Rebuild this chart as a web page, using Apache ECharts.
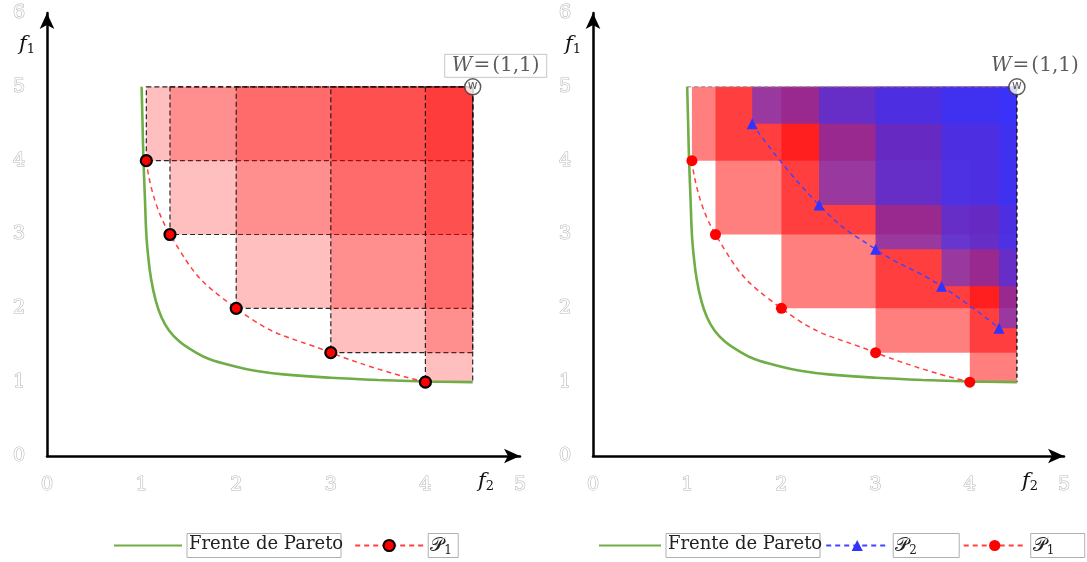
<!DOCTYPE html>
<html>
<head>
<meta charset="utf-8">
<script src="https://cdn.jsdelivr.net/npm/echarts@6/dist/echarts.min.js"></script>
<style>
  html, body { margin: 0; padding: 0; background: #fff; }
  #chart { width: 1087px; height: 562px; }
</style>
</head>
<body>
<div id="chart"></div>
<script>
// Tick values for both panels
const xTicks = [0, 1, 2, 3, 4, 5];
const yTicks = [0, 1, 2, 3, 4, 5, 6];

// Pareto front (f2, f1)
const front = [
  [1.0, 5.0], [1.01, 4.5], [1.02, 4.0], [1.035, 3.5], [1.05, 3.0], [1.07, 2.7],
  [1.10, 2.4], [1.15, 2.1], [1.21, 1.88], [1.29, 1.70], [1.40, 1.55],
  [1.55, 1.42], [1.72, 1.31], [2.0, 1.21], [2.2, 1.155], [2.5, 1.105],
  [3.0, 1.06], [3.5, 1.03], [4.0, 1.01], [4.5, 1.0]
];

// Approximation sets
const p1 = [[1.05, 4.0], [1.3, 3.0], [2.0, 2.0], [3.0, 1.4], [4.0, 1.0]];
const p2 = [[1.69, 4.5], [2.4, 3.4], [3.0, 2.8], [3.7, 2.3], [4.31, 1.73]];

// Reference point W
const ref = [4.5, 5.0];
const refName = 'W';
const refValue = '(1,1)';

const SERIF = "'DejaVu Serif', 'Liberation Serif', serif";

// Rectangles dominated by each point, up to the reference point
const boxes = pts => pts.map(p => [p[0], p[1], ref[0], ref[1]]);

function rectRenderer(fill, stroke) {
  return function (params, api) {
    const a = api.coord([api.value(0), api.value(1)]);
    const b = api.coord([api.value(2), api.value(3)]);
    const style = { fill: fill };
    if (stroke) {
      style.stroke = stroke;
      style.lineWidth = 1.2;
      style.lineDash = [5, 3];
    } else {
      style.stroke = null;
    }
    return {
      type: 'rect',
      shape: { x: a[0], y: b[1], width: b[0] - a[0], height: a[1] - b[1] },
      style: style
    };
  };
}

function axisPair(gridIndex) {
  const tickLabel = {
    color: '#ffffff',
    textBorderColor: '#b8b8b8',
    textBorderWidth: 1.2,
    fontFamily: SERIF,
    fontSize: 19
  };
  const line = {
    show: true,
    symbol: ['none', 'arrow'],
    symbolSize: [11, 16],
    lineStyle: { color: '#000', width: 2.5 }
  };
  const nameRich = {
    f: { fontFamily: SERIF, fontStyle: 'italic', fontSize: 21, color: '#111' },
    s: { fontFamily: SERIF, fontSize: 13, color: '#111', padding: [10, 0, 0, 0] }
  };
  return {
    x: {
      type: 'value', gridIndex, min: xTicks[0], max: xTicks[xTicks.length - 1], interval: 1,
      axisLine: line, axisTick: { show: false }, splitLine: { show: false },
      axisLabel: Object.assign({ margin: 20 }, tickLabel),
      name: '{f|f}{s|2}', nameLocation: 'end', nameGap: -42,
      nameTextStyle: { align: 'left', verticalAlign: 'top', padding: [14, 0, 0, 0], rich: nameRich }
    },
    y: {
      type: 'value', gridIndex, min: yTicks[0], max: yTicks[yTicks.length - 1], interval: 1,
      axisLine: line, axisTick: { show: false }, splitLine: { show: false },
      axisLabel: Object.assign({ margin: 22 }, tickLabel),
      name: '{f|f}{s|1}', nameLocation: 'end', nameGap: -32,
      nameTextStyle: { align: 'right', verticalAlign: 'middle', padding: [0, 12, 0, 0], rich: nameRich }
    }
  };
}

const ax0 = axisPair(0), ax1 = axisPair(1);

const frontStyle = { color: '#70ad47', width: 2.6 };
const richP = {
  p: { fontFamily: SERIF, fontSize: 19, color: '#222' },
  s: { fontFamily: SERIF, fontSize: 12, color: '#222', padding: [9, 0, 0, 0] }
};
const legendName = {
  'Frente de Pareto': 'Frente de Pareto',
  'P1-a': '{p|𝒫}{s|1}',
  'P1-b': '{p|𝒫}{s|1}',
  'P2': '{p|𝒫}{s|2}'
};
const boxText = (w) => ({
  width: w, height: 20, align: 'center',
  borderColor: '#b0b0b0', borderWidth: 1, padding: [2, 2],
  fontFamily: SERIF, fontSize: 18, color: '#222', rich: richP
});
const noMarker = { opacity: 0 };

function refSeries(x, y, withBox, offset) {
  return [
    {
      type: 'scatter', xAxisIndex: x, yAxisIndex: y, z: 6,
      data: [ref], symbol: 'circle', symbolSize: 16,
      itemStyle: { color: '#fff', borderColor: '#333', borderWidth: 1.5 },
      label: { show: true, position: 'inside', formatter: refName.toLowerCase(), fontSize: 12, color: '#333', fontFamily: "'DejaVu Sans', sans-serif", offset: [0, -1] },
      silent: true
    },
    {
      type: 'scatter', xAxisIndex: x, yAxisIndex: y, z: 6,
      data: [ref], symbolSize: 0,
      label: {
        show: true, position: 'inside', offset: offset,
        formatter: '{w|' + refName + '}{e|=}{t|' + refValue + '}',
        borderColor: withBox ? '#b8b8b8' : 'transparent', borderWidth: 1,
        width: 96, height: 21, padding: [1, 3], align: 'center',
        rich: {
          w: { fontFamily: SERIF, fontStyle: 'italic', fontSize: 20, color: '#333' },
          e: { fontFamily: SERIF, fontSize: 20, color: '#333', padding: [0, 2, 0, 1] },
          t: { fontFamily: SERIF, fontSize: 20, color: '#333' }
        }
      },
      silent: true
    }
  ];
}

const option = {
  animation: false,
  backgroundColor: '#fff',
  grid: [
    { left: 47, top: 13, width: 473, height: 443 },
    { left: 593, top: 13, width: 471, height: 443 }
  ],
  xAxis: [ax0.x, ax1.x],
  yAxis: [ax0.y, ax1.y],
  legend: [
    {
      left: 113, top: 533, width: 400, padding: 0, itemWidth: 68, itemHeight: 14, itemGap: 11,
      formatter: n => legendName[n],
      data: [
        { name: 'Frente de Pareto', textStyle: boxText(150), itemStyle: noMarker },
        { name: 'P1-a', textStyle: boxText(26) }
      ]
    },
    {
      left: 598, top: 533, width: 489, padding: 0, itemWidth: 62, itemHeight: 14, itemGap: 3,
      formatter: n => legendName[n],
      data: [
        { name: 'Frente de Pareto', textStyle: boxText(150), itemStyle: noMarker },
        { name: 'P2', textStyle: boxText(62) },
        { name: 'P1-b', textStyle: boxText(50) }
      ]
    }
  ],
  series: [
    // ---- left panel: hypervolume of P1 ----
    {
      type: 'custom', xAxisIndex: 0, yAxisIndex: 0, z: 1, silent: true,
      data: boxes(p1), encode: { x: [0, 2], y: [1, 3] },
      renderItem: rectRenderer('rgba(255,0,0,0.25)', 'rgba(20,20,20,0.9)')
    },
    {
      name: 'Frente de Pareto', type: 'line', xAxisIndex: 0, yAxisIndex: 0, z: 3,
      data: front, smooth: 0.4, showSymbol: false, symbol: 'none',
      lineStyle: frontStyle, itemStyle: { color: '#70ad47' }
    },
    {
      name: 'P1-a', type: 'line', xAxisIndex: 0, yAxisIndex: 0, z: 4,
      data: p1, smooth: true, symbol: 'circle', symbolSize: 11,
      lineStyle: { color: '#ff4040', width: 1.5, type: [5, 4] },
      itemStyle: { color: '#ff0000', borderColor: '#000', borderWidth: 2.2 }
    },
    ...refSeries(0, 0, true, [23, -21]),

    // ---- right panel: hypervolumes of P1 and P2 ----
    {
      type: 'custom', xAxisIndex: 1, yAxisIndex: 1, z: 1, silent: true,
      data: boxes(p1), encode: { x: [0, 2], y: [1, 3] },
      renderItem: rectRenderer('rgba(255,0,0,0.5)', null)
    },
    {
      type: 'custom', xAxisIndex: 1, yAxisIndex: 1, z: 2, silent: true,
      data: boxes(p2), encode: { x: [0, 2], y: [1, 3] },
      renderItem: rectRenderer('rgba(51,51,255,0.5)', null)
    },
    {
      type: 'line', xAxisIndex: 1, yAxisIndex: 1, z: 3, silent: true,
      data: [[front[0][0], ref[1]], ref], symbol: 'none',
      lineStyle: { color: '#888', width: 1, type: [4, 3] }
    },
    {
      type: 'line', xAxisIndex: 1, yAxisIndex: 1, z: 3, silent: true,
      data: [ref, [ref[0], front[front.length - 1][1]]], symbol: 'none',
      lineStyle: { color: '#111', width: 1.4, type: [4, 3] }
    },
    {
      name: 'Frente de Pareto', type: 'line', xAxisIndex: 1, yAxisIndex: 1, z: 3,
      data: front, smooth: 0.4, showSymbol: false, symbol: 'none',
      lineStyle: frontStyle, itemStyle: { color: '#70ad47' }
    },
    {
      name: 'P2', type: 'line', xAxisIndex: 1, yAxisIndex: 1, z: 4,
      data: p2, smooth: true, symbol: 'triangle', symbolSize: 11,
      lineStyle: { color: '#4444ff', width: 1.5, type: [5, 4] },
      itemStyle: { color: '#3333ff' }
    },
    {
      name: 'P1-b', type: 'line', xAxisIndex: 1, yAxisIndex: 1, z: 4,
      data: p1, smooth: true, symbol: 'circle', symbolSize: 11,
      lineStyle: { color: '#ff4040', width: 1.5, type: [5, 4] },
      itemStyle: { color: '#ff0000' }
    },
    ...refSeries(1, 1, false, [18, -21])
  ]
};

const chart = echarts.init(document.getElementById('chart'), null, { renderer: 'canvas' });
chart.setOption(option);
</script>
</body>
</html>
